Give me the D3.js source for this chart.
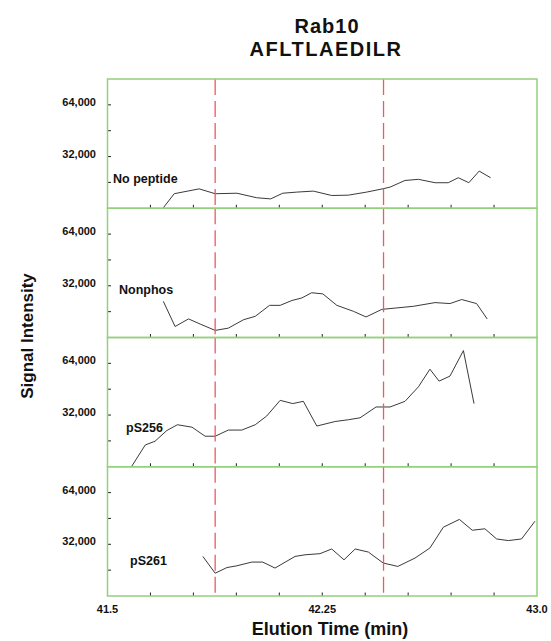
<!DOCTYPE html>
<html>
<head>
<meta charset="utf-8">
<script src="https://cdn.jsdelivr.net/npm/d3@7"></script>
<style>
  body { margin: 0; background: #fff; }
  text { font-family: Arial, "Liberation Sans", sans-serif; font-weight: bold; fill: #111; }
</style>
</head>
<body>
<div id="chart"></div>
<script>
// panel names (top to bottom)
const panelNames = ["No peptide", "Nonphos", "pS256", "pS261"]

// elution time (min) and signal for each trace
const noPeptideTime = [41.685, 41.733, 41.820, 41.876, 41.952, 42.021, 42.070, 42.112, 42.161, 42.219, 42.283, 42.341, 42.405, 42.463, 42.487, 42.539, 42.586, 42.644, 42.690, 42.725, 42.762, 42.798, 42.838]
const noPeptideSignal = [-2000, 9000, 12000, 9000, 9300, 6500, 5800, 9300, 10000, 10600, 7900, 8100, 10000, 12100, 13100, 17200, 17900, 15800, 15800, 18900, 15800, 23000, 18900]

const nonphosTime = [41.695, 41.736, 41.783, 41.824, 41.876, 41.922, 41.975, 42.016, 42.066, 42.103, 42.144, 42.179, 42.213, 42.252, 42.301, 42.359, 42.403, 42.458, 42.510, 42.568, 42.644, 42.696, 42.737, 42.789, 42.826]
const nonphosSignal = [22400, 6800, 11500, 8300, 4400, 5800, 11000, 13100, 19900, 19900, 22900, 24500, 27700, 27000, 19900, 16200, 12700, 17400, 18300, 19300, 21600, 21000, 23500, 21000, 11500]

const pS256Time = [41.580, 41.632, 41.666, 41.707, 41.744, 41.795, 41.841, 41.876, 41.922, 41.969, 42.016, 42.056, 42.103, 42.147, 42.184, 42.231, 42.295, 42.341, 42.382, 42.438, 42.487, 42.539, 42.586, 42.626, 42.658, 42.696, 42.743, 42.780]
const pS256Signal = [-1000, 13500, 15800, 22400, 26000, 24500, 18900, 18900, 22700, 22700, 26000, 31400, 41100, 39100, 40500, 25200, 28000, 29100, 30300, 37000, 37000, 40500, 49500, 60400, 53000, 56100, 71900, 39100]

const pS261Time = [41.833, 41.876, 41.917, 41.952, 42.004, 42.042, 42.085, 42.155, 42.190, 42.242, 42.283, 42.326, 42.365, 42.411, 42.463, 42.514, 42.574, 42.626, 42.673, 42.729, 42.774, 42.818, 42.859, 42.900, 42.946, 42.993]
const pS261Signal = [24500, 14100, 17600, 18700, 21000, 21000, 17300, 24500, 25500, 26200, 29100, 22400, 29100, 27200, 20400, 18300, 23500, 29700, 42600, 47400, 40700, 41600, 35300, 34300, 35300, 46300]

const traceTimes = [noPeptideTime, nonphosTime, pS256Time, pS261Time]
const traceSignals = [noPeptideSignal, nonphosSignal, pS256Signal, pS261Signal]

// axis ticks and marker lines
const xTicks = [41.5, 41.65, 41.8, 41.95, 42.1, 42.25, 42.4, 42.55, 42.7, 42.85, 43.0]
const xTickLabels = [41.5, 42.25, 43.0]
const yTicks = [16000, 32000, 48000, 64000]
const yTickLabels = [32000, 64000]
const markerTimes = [41.876, 42.464]

const width = 551, height = 641
const margin = {top: 79, right: 14, bottom: 45, left: 107.5}
const plotW = width - margin.left - margin.right
const plotH = height - margin.top - margin.bottom
const panelH = plotH / panelNames.length

// label offsets inside each panel (left x, from panel top)
const labelPos = [[113, 104], [119, 86], [126, 94], [130, 98]]

const svg = d3.select("#chart")
  .append("svg")
    .attr("width", width)
    .attr("height", height)

const x = d3.scaleLinear()
  .domain([41.5, 43.0])
  .range([margin.left, margin.left + plotW])

const y = d3.scaleLinear()
  .domain([0, 80000])
  .range([panelH, 0])

const line = d3.line()
  .x(d => x(d[0]))
  .y(d => y(d[1]))

panelNames.forEach(function(name, i) {
  const top = margin.top + i * panelH
  const g = svg.append("g").attr("transform", `translate(0,${top})`)

  g.append("clipPath").attr("id", "clip" + i)
    .append("rect")
      .attr("x", margin.left).attr("y", 0)
      .attr("width", plotW).attr("height", panelH)

  // inside ticks, left
  g.selectAll(".yt").data(yTicks).join("line")
    .attr("x1", margin.left).attr("x2", margin.left + 3.5)
    .attr("y1", d => y(d)).attr("y2", d => y(d))
    .attr("stroke", "#222").attr("stroke-width", 1)

  // inside ticks, bottom
  g.selectAll(".xt").data(xTicks.slice(1, -1)).join("line")
    .attr("x1", d => x(d)).attr("x2", d => x(d))
    .attr("y1", panelH).attr("y2", panelH - 3.5)
    .attr("stroke", "#222").attr("stroke-width", 1)

  g.selectAll(".yl").data(yTickLabels).join("text")
    .attr("x", 96).attr("y", d => y(d) + 1)
    .attr("text-anchor", "end")
    .attr("font-size", "11px")
    .text(d => d3.format(",")(d))

  // the trace
  const pts = d3.zip(traceTimes[i], traceSignals[i])
  g.append("path")
    .datum(pts)
    .attr("clip-path", `url(#clip${i})`)
    .attr("fill", "none")
    .attr("stroke", "#3a3a3a")
    .attr("stroke-width", 1)
    .attr("d", line)

  g.append("text")
    .attr("x", labelPos[i][0]).attr("y", labelPos[i][1])
    .attr("font-size", "12.5px")
    .text(name)

  // dashed markers
  g.selectAll(".mk").data(markerTimes).join("line")
    .attr("x1", d => x(d)).attr("x2", d => x(d))
    .attr("y1", 0).attr("y2", panelH)
    .attr("stroke", "#ee5a60").attr("stroke-width", 1.3)
    .attr("stroke-dasharray", "16,6")

  // green frame
  g.append("rect")
    .attr("x", margin.left).attr("y", 0)
    .attr("width", plotW).attr("height", panelH)
    .attr("fill", "none")
    .attr("stroke", "#94d07e").attr("stroke-width", 1.5)
})

// x tick labels
svg.selectAll(".xl").data(xTickLabels).join("text")
  .attr("x", d => x(d)).attr("y", margin.top + plotH + 17)
  .attr("text-anchor", "middle")
  .attr("font-size", "11px")
  .text(d => d === 42.25 ? "42.25" : d.toFixed(1))

// axis titles
svg.append("text")
  .attr("x", 330).attr("y", 635)
  .attr("text-anchor", "middle")
  .attr("font-size", "18px")
  .attr("fill", "#222")
  .text("Elution Time (min)")

svg.append("text")
  .attr("transform", "translate(33,336) rotate(-90)")
  .attr("text-anchor", "middle")
  .attr("font-size", "17px")
  .attr("fill", "#222")
  .text("Signal Intensity")

// title
svg.append("text")
  .attr("x", 327).attr("y", 33)
  .attr("text-anchor", "middle")
  .attr("font-size", "20px")
  .attr("letter-spacing", "1px")
  .text("Rab10")

svg.append("text")
  .attr("x", 326).attr("y", 56)
  .attr("text-anchor", "middle")
  .attr("font-size", "20px")
  .attr("letter-spacing", "1.5px")
  .text("AFLTLAEDILR")
</script>
</body>
</html>
